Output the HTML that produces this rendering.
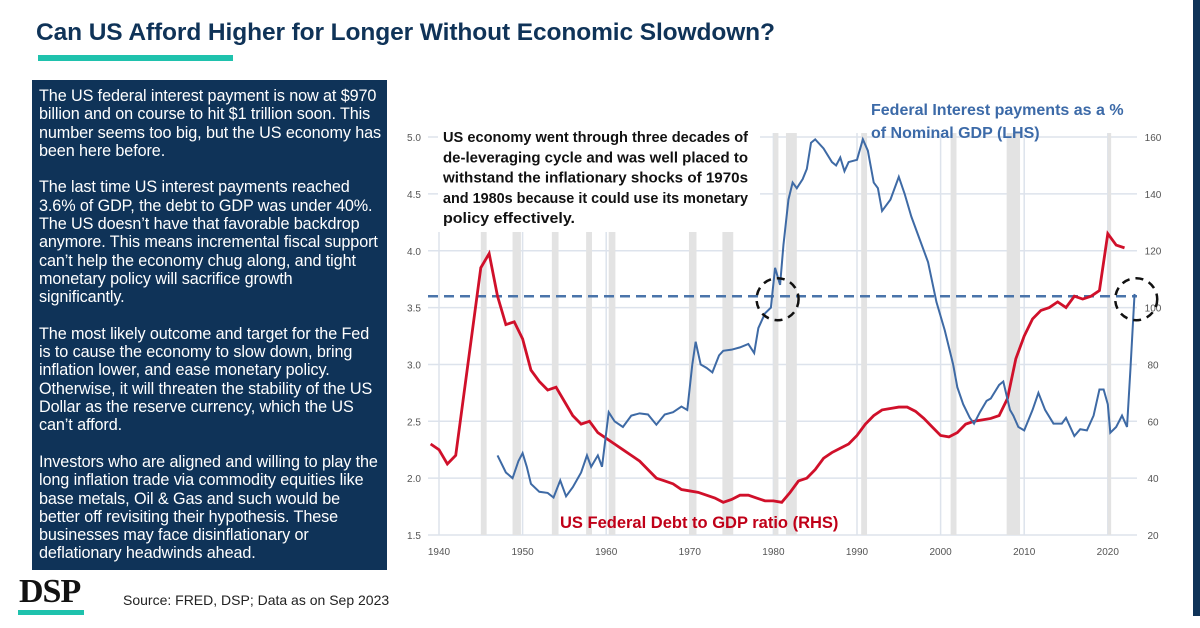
<!DOCTYPE html>
<html><head><meta charset="utf-8"><style>
body{margin:0;width:1200px;height:628px;background:#fff;position:relative;overflow:hidden;font-family:"Liberation Sans",sans-serif}
.abs{position:absolute}
.box p{margin:0 0 18.3px;white-space:nowrap}
</style></head><body>
<div class="abs" style="left:36px;top:19px;font-size:24.5px;font-weight:bold;color:#0f3358;white-space:nowrap;letter-spacing:-0.1px">Can US Afford Higher for Longer Without Economic Slowdown?</div>
<div class="abs" style="left:38px;top:55px;width:195px;height:6px;background:#1fc2ad"></div>
<div class="abs" style="left:1193px;top:0;width:7px;height:616px;background:#0f3358"></div>
<div class="abs box" style="left:32px;top:80px;width:348px;height:483px;padding:7px 0 0 7px;background:#0f3358;color:#fff;font-size:16.2px;line-height:18.3px;letter-spacing:-0.1px">
<p>The US federal interest payment is now at $970<br>billion and on course to hit $1 trillion soon. This<br>number seems too big, but the US economy has<br>been here before.</p>
<p>The last time US interest payments reached<br>3.6% of GDP, the debt to GDP was under 40%.<br>The US doesn’t have that favorable backdrop<br>anymore. This means incremental fiscal support<br>can’t help the economy chug along, and tight<br>monetary policy will sacrifice growth<br>significantly.</p>
<p>The most likely outcome and target for the Fed<br>is to cause the economy to slow down,  bring<br>inflation lower, and ease monetary policy.<br>Otherwise, it will threaten the stability of the US<br>Dollar as the reserve currency, which the US<br>can’t afford.</p>
<p>Investors who are aligned and willing to play the<br>long inflation trade via commodity equities like<br>base metals, Oil &amp; Gas and such would be<br>better off revisiting their hypothesis. These<br>businesses may face disinflationary or<br>deflationary headwinds ahead.</p>
</div>
<div class="abs" style="left:19px;top:573px;font-family:'Liberation Serif',serif;font-weight:bold;font-size:34px;color:#111;letter-spacing:-1px">DSP</div>
<div class="abs" style="left:18px;top:610px;width:66px;height:5px;background:#1fc2ad"></div>
<div class="abs" style="left:123px;top:592px;font-size:14px;color:#222">Source: FRED, DSP; Data as on Sep 2023</div>

<svg class="abs" style="left:0;top:0" width="1200" height="628" id="chart"></svg>
<script>
const years=[1939,1940,1941,1942,1943,1944,1945,1946,1947,1948,1949,1950,1951,1952,1953,1954,1955,1956,1957,1958,1959,1960,1961,1962,1963,1964,1965,1966,1967,1968,1969,1970,1971,1972,1973,1974,1975,1976,1977,1978,1979,1980,1981,1982,1983,1984,1985,1986,1987,1988,1989,1990,1991,1992,1993,1994,1995,1996,1997,1998,1999,2000,2001,2002,2003,2004,2005,2006,2007,2008,2009,2010,2011,2012,2013,2014,2015,2016,2017,2018,2019,2020,2021,2022];
const debtToGdp=[52,50,45,48,70,92,114,119,104,94,95,89,78,74,71,72,67,62,59,60,56,54,52,50,48,46,43,40,39,38,36,35.5,35,34,33,31.5,32.5,34,34,33,32,32,31.5,35,39,40,43,47,49,50.5,52,55,59,62,64,64.5,65,65,63.5,61,58,55,54.5,56,59,60,60.5,61,62,68,82,90,96,99,100,102,100,104,103,104,106,126,122,121];
const interestDates=[1947,1948,1948.8,1949.5,1950,1950.5,1951,1952,1953,1953.7,1954.5,1955.2,1956,1957,1957.7,1958.2,1959,1959.5,1960,1960.3,1961,1962,1963,1964,1965,1966,1967,1968,1969,1969.7,1970.3,1970.7,1971.3,1972,1972.7,1973.5,1974,1975,1976,1977,1977.7,1978.2,1979,1979.7,1980.2,1980.8,1981.2,1981.8,1982.3,1982.8,1983.5,1984,1984.5,1985,1986,1987,1987.5,1988,1988.5,1989,1990,1990.7,1991.3,1992,1992.5,1993,1994,1995,1995.7,1996.5,1997.5,1998.5,1999.5,2000.5,2001.5,2002,2002.7,2003.5,2004,2004.7,2005.5,2006,2007,2007.5,2008.3,2008.7,2009.3,2010,2011,2011.7,2012.5,2013.5,2014.5,2015,2016,2016.7,2017.5,2018.3,2019,2019.5,2020,2020.3,2021,2021.7,2022.3,2022.7,2023.2];
const interestPct=[2.2,2.05,2.0,2.15,2.22,2.1,1.95,1.88,1.87,1.83,1.98,1.84,1.92,2.05,2.2,2.1,2.2,2.1,2.4,2.58,2.5,2.45,2.55,2.57,2.56,2.47,2.56,2.58,2.63,2.6,3.0,3.2,3.0,2.97,2.93,3.08,3.12,3.13,3.15,3.18,3.1,3.32,3.45,3.5,3.85,3.7,4.05,4.45,4.6,4.55,4.63,4.72,4.95,4.98,4.9,4.78,4.75,4.82,4.7,4.78,4.8,4.98,4.88,4.6,4.55,4.35,4.45,4.65,4.5,4.3,4.1,3.9,3.55,3.3,3.0,2.8,2.65,2.53,2.48,2.58,2.68,2.7,2.82,2.85,2.6,2.55,2.45,2.42,2.6,2.75,2.6,2.48,2.48,2.53,2.37,2.43,2.42,2.55,2.78,2.78,2.65,2.4,2.45,2.55,2.45,2.95,3.62];
const recessions=[[1945,1945.7],[1948.8,1949.8],[1953.5,1954.3],[1957.6,1958.3],[1960.3,1961.1],[1969.9,1970.8],[1973.9,1975.2],[1980,1980.6],[1981.5,1982.8],[1990.5,1991.2],[2001.2,2001.9],[2007.9,2009.5],[2020,2020.4]];
const leftTicks=[1.5,2.0,2.5,3.0,3.5,4.0,4.5,5.0];
const rightTicks=[20,40,60,80,100,120,140,160];
const xTicks=[1940,1950,1960,1970,1980,1990,2000,2010,2020];
const threshold=3.6;
const X=y=>439+(y-1940)*8.36;
const YL=v=>535-(v-1.5)*113.7;
const YR=v=>535-(v-20)*398/140;
const svg=document.getElementById('chart');const NS='http://www.w3.org/2000/svg';
function mk(t,a,p){const e=document.createElementNS(NS,t);for(const k in a)e.setAttribute(k,a[k]);(p||svg).appendChild(e);return e;}
leftTicks.forEach((v,i)=>{const l=mk('line',{x1:428,x2:1137,y1:YL(v),y2:YL(v),stroke:'#dde3ec','stroke-width':1.5});

const t=mk('text',{x:414,y:YL(v)+4,'font-size':10,fill:'#555','text-anchor':'middle'});t.textContent=v.toFixed(1);

const r=mk('text',{x:1153,y:YR(rightTicks[i])+4,'font-size':10,fill:'#555','text-anchor':'middle'});r.textContent=rightTicks[i];
});
xTicks.forEach(y=>{const l=mk('line',{x1:X(y),x2:X(y),y1:133,y2:535,stroke:'#dde3ec','stroke-width':1.5});

const t=mk('text',{x:X(y),y:555,'font-size':10,fill:'#555','text-anchor':'middle'});t.textContent=y;
});
recessions.forEach(r=>{const e=mk('rect',{x:X(r[0]),y:133,width:X(r[1])-X(r[0]),height:402,fill:'#e3e3e3'});
});
const wb=mk('rect',{x:438,y:124,width:322,height:108,fill:'#fff'});

const dl=mk('line',{x1:428,x2:1137,y1:YL(threshold),y2:YL(threshold),stroke:'#4a74aa','stroke-width':2.5,'stroke-dasharray':'10,6'});

const rp=mk('polyline',{points:years.map((y,i)=>X(y)+','+YR(debtToGdp[i])).join(' '),fill:'none',stroke:'#d0102a','stroke-width':2.8});

const bp=mk('polyline',{points:interestDates.map((y,i)=>X(y)+','+YL(interestPct[i])).join(' '),fill:'none',stroke:'#3e6aa5','stroke-width':2});

[[1980.5],[2023.4]].forEach(c=>{const e=mk('circle',{cx:X(c[0]),cy:YL(threshold)+3,r:21,fill:'none',stroke:'#111','stroke-width':2.5,'stroke-dasharray':'8,6'});
});
const ann=['US economy went through three decades of','de-leveraging cycle and was well placed to','withstand the inflationary shocks of 1970s','and 1980s because it could use its monetary','policy effectively.'];
ann.forEach((s,i)=>{const t=mk('text',{x:443,y:142+i*20.3,'font-size':14.5,'font-weight':'bold',fill:'#111',textLength:s.length>25?305:132,lengthAdjust:'spacingAndGlyphs'});t.textContent=s;
});
['Federal Interest payments as a %','of Nominal GDP (LHS)'].forEach((s,i)=>{const t=mk('text',{x:871,y:115+i*23,'font-size':16,'font-weight':'bold',fill:'#3c6aa8'});t.textContent=s;
});
const rl=mk('text',{x:560,y:528,'font-size':16.5,'font-weight':'bold',fill:'#c00018'});rl.textContent='US Federal Debt to GDP ratio (RHS)';

</script>
</body></html>
